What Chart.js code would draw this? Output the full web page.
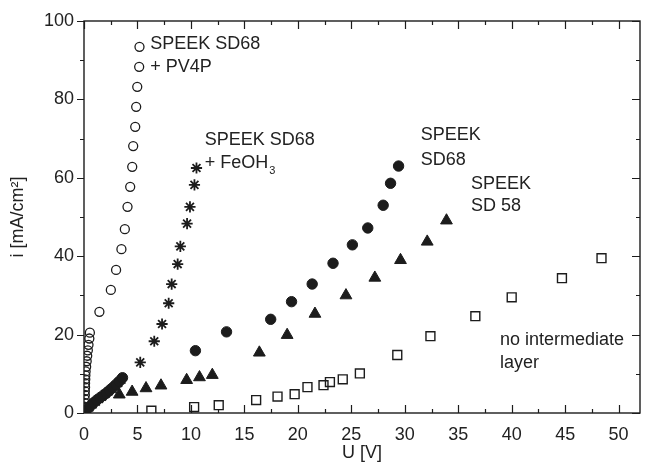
<!DOCTYPE html>
<html><head><meta charset="utf-8">
<script src="https://cdn.jsdelivr.net/npm/chart.js@4.4.1/dist/chart.umd.min.js"></script>
<style>html,body{margin:0;padding:0;background:#fff}</style>
</head><body>
<canvas id="c" width="652" height="467"></canvas>
<script>
// ---- data (U in V, i in mA/cm2) ----
const pv4pU = [5.19,5.16,4.98,4.88,4.79,4.60,4.51,4.32,4.07,3.82,3.50,3.00,2.51,1.44,
  0.55,0.50,0.42,0.36,0.30,0.25,0.20,0.15,0.13,0.12,0.10,0.10,0.08,0.08,0.06,0.05,0.04,0.03];
const pv4pI = [93.4,88.3,83.2,78.1,73.0,68.1,62.8,57.7,52.6,46.9,41.8,36.5,31.4,25.8,
  20.5,19.0,17.4,16.0,14.6,13.2,11.8,10.6,9.6,8.6,7.6,6.6,5.6,4.6,3.6,2.6,1.6,0.6];

const feohU = [0.2,0.5,0.8,1.1,1.4,1.7,2.0,2.3,2.6,2.9,3.2,3.5,
  5.26,6.57,7.30,7.92,8.20,8.76,9.01,9.64,9.91,10.33,10.52];
const feohI = [0.5,1.4,2.2,2.9,3.6,4.2,4.9,5.5,6.2,6.9,7.7,8.5,
  12.9,18.3,22.7,28.0,32.9,38.0,42.5,48.3,52.6,58.2,62.5];

const sd68U = [0.3,0.6,0.9,1.2,1.5,1.8,2.1,2.4,2.7,3.0,3.3,3.6,
  10.42,13.33,17.46,19.41,21.34,23.29,25.10,26.54,27.98,28.67,29.42];
const sd68I = [1.0,1.8,2.6,3.3,3.9,4.5,5.1,5.8,6.5,7.3,8.1,9.0,
  15.9,20.7,23.9,28.4,32.9,38.2,42.9,47.2,53.0,58.6,63.0];

const sd58U = [3.3,4.5,5.8,7.2,9.6,10.8,12.0,16.4,19.0,21.6,24.5,27.2,29.6,32.1,33.9];
const sd58I = [4.7,5.4,6.3,7.0,8.4,9.1,9.7,15.4,19.9,25.3,30.0,34.5,39.0,43.7,49.1];

const noLayerU = [6.3,10.3,12.6,16.1,18.1,19.7,20.9,22.4,23.0,24.2,25.8,29.3,32.4,36.6,40.0,44.7,48.4];
const noLayerI = [0.6,1.5,2.0,3.3,4.2,4.8,6.6,7.1,7.9,8.6,10.1,14.8,19.6,24.7,29.5,34.4,39.5];

const xTicks = [0,5,10,15,20,25,30,35,40,45,50];
const yTicks = [0,20,40,60,80,100];

const pairs = (u, i) => u.map((v, k) => ({x: v, y: i[k]}));
const INK = '#1c1c1c';
const FONT = '"Liberation Sans", Arial, Helvetica, sans-serif';

const annotations = [
  {lines: ['SPEEK SD68', '+ PV4P'], x: 6.2, y: [94, 88.3]},
  {lines: ['SPEEK SD68', '+ FeOH|3'], x: 11.3, y: [69.6, 63.8]},
  {lines: ['SPEEK', 'SD68'], x: 31.5, y: [71, 64.6]},
  {lines: ['SPEEK', 'SD 58'], x: 36.2, y: [58.4, 52.8]},
  {lines: ['no intermediate', 'layer'], x: 38.9, y: [18.6, 12.8]}
];

const framePlugin = {
  id: 'frame',
  afterDatasetsDraw(chart) {
    const {ctx, chartArea: a, scales: {x, y}} = chart;
    ctx.save();
    ctx.strokeStyle = INK;
    ctx.lineWidth = 1.4;
    ctx.strokeRect(a.left, a.top, a.right - a.left, a.bottom - a.top);
    ctx.lineWidth = 1.2;
    ctx.beginPath();
    for (let v = 0; v <= x.max + 1e-9; v += 2.5) {
      const px = Math.round(x.getPixelForValue(v)) + 0.5;
      const major = Math.abs(v % 5) < 1e-9;
      const L = major ? 8 : 4;
      ctx.moveTo(px, a.bottom); ctx.lineTo(px, a.bottom - L);
      ctx.moveTo(px, a.top); ctx.lineTo(px, a.top + L);
    }
    for (let v = 0; v <= y.max + 1e-9; v += 10) {
      const py = Math.round(y.getPixelForValue(v)) + 0.5;
      const major = Math.abs(v % 20) < 1e-9;
      ctx.moveTo(a.left, py); ctx.lineTo(a.left - (major ? 7 : 4), py);
      ctx.moveTo(a.right, py); ctx.lineTo(a.right - (major ? 8 : 4), py);
    }
    ctx.stroke();
    // annotations
    ctx.fillStyle = '#222';
    ctx.textBaseline = 'middle';
    ctx.textAlign = 'left';
    annotations.forEach(an => {
      const px = x.getPixelForValue(an.x);
      an.lines.forEach((t, k) => {
        const py = y.getPixelForValue(an.y[k]);
        const parts = t.split('|');
        ctx.font = '18px ' + FONT;
        ctx.fillText(parts[0], px, py);
        if (parts[1]) {
          const w = ctx.measureText(parts[0]).width;
          ctx.font = '11px ' + FONT;
          ctx.fillText(parts[1], px + w + 1, py + 8);
        }
      });
    });
    ctx.restore();
  }
};

new Chart(document.getElementById('c'), {
  type: 'scatter',
  data: {
    datasets: [
      {label: 'no intermediate layer', data: pairs(noLayerU, noLayerI), pointStyle: 'rect', radius: 6.3,
        backgroundColor: 'rgba(255,255,255,0)', borderColor: INK, borderWidth: 1.4},
      {label: 'SPEEK SD 58', data: pairs(sd58U, sd58I), pointStyle: 'triangle', radius: 6.8,
        backgroundColor: INK, borderColor: INK, borderWidth: 1},
      {label: 'SPEEK SD68', data: pairs(sd68U, sd68I), pointStyle: 'circle', radius: 5.2,
        backgroundColor: INK, borderColor: INK, borderWidth: 1},
      {label: 'SPEEK SD68 + FeOH3', data: pairs(feohU, feohI), pointStyle: 'star', radius: 5.6,
        backgroundColor: INK, borderColor: INK, borderWidth: 1.8},
      {label: 'SPEEK SD68 + PV4P', data: pairs(pv4pU, pv4pI), pointStyle: 'circle', radius: 4.5,
        backgroundColor: 'rgba(255,255,255,0)', borderColor: INK, borderWidth: 1.3}
    ]
  },
  options: {
    responsive: false,
    devicePixelRatio: 1,
    animation: false,
    events: [],
    layout: {padding: {left: 0, right: 12, top: 21, bottom: 0}},
    plugins: {legend: {display: false}, tooltip: {enabled: false}},
    scales: {
      x: {
        type: 'linear', min: 0, max: 52,
        afterFit(s) { s.height = 54; },
        afterBuildTicks(s) { s.ticks = xTicks.map(v => ({value: v})); },
        grid: {display: false}, border: {display: false},
        ticks: {color: '#222', font: {family: FONT, size: 18}, padding: 3, maxRotation: 0},
        title: {display: true, text: 'U [V]', color: '#222', font: {family: FONT, size: 18}, padding: {top: 0, bottom: 3}}
      },
      y: {
        type: 'linear', min: 0, max: 100,
        afterFit(s) { s.width = 84; },
        afterBuildTicks(s) { s.ticks = yTicks.map(v => ({value: v})); },
        grid: {display: false}, border: {display: false},
        ticks: {color: '#222', font: {family: FONT, size: 18}, padding: 2},
        title: {display: true, text: 'i [mA/cm²]', color: '#222', font: {family: FONT, size: 18}, padding: {top: 7, bottom: 0}}
      }
    }
  },
  plugins: [framePlugin]
});
</script>
</body></html>
